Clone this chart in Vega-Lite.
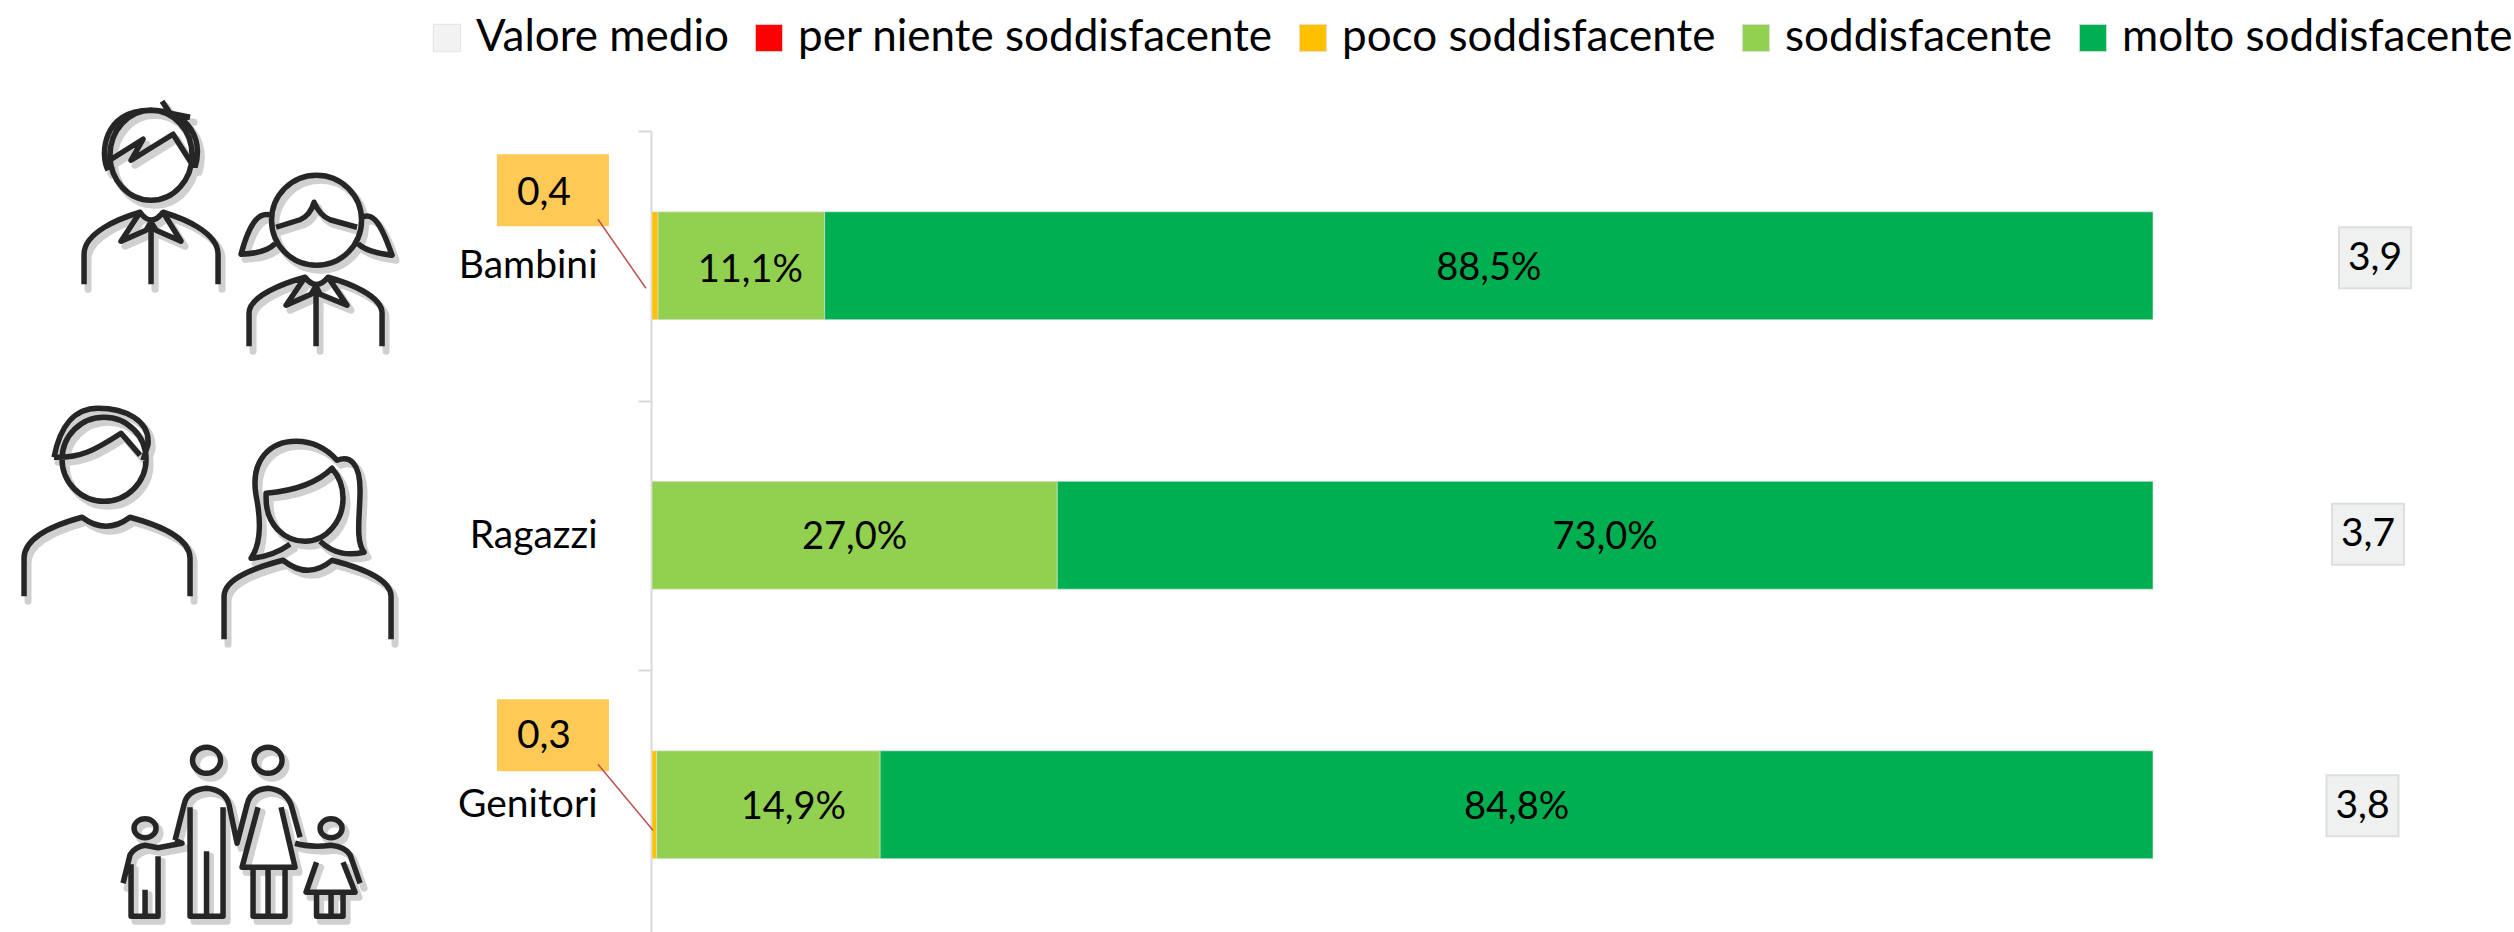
{"$schema":"https://vega.github.io/schema/vega-lite/v6.json","width":2514,"height":932,"autosize":{"type":"none"},"padding":0,"background":"white","config":{"view":{"stroke":null},"font":"Lato"},
"datasets":{"risposte":[
{"gruppo":"Bambini","categoria":"per niente soddisfacente","ordine":1,"valore":0,"etichetta":""},
{"gruppo":"Bambini","categoria":"poco soddisfacente","ordine":2,"valore":0.4,"etichetta":""},
{"gruppo":"Bambini","categoria":"soddisfacente","ordine":3,"valore":11.1,"etichetta":"11,1%"},
{"gruppo":"Bambini","categoria":"molto soddisfacente","ordine":4,"valore":88.5,"etichetta":"88,5%"},
{"gruppo":"Ragazzi","categoria":"per niente soddisfacente","ordine":1,"valore":0,"etichetta":""},
{"gruppo":"Ragazzi","categoria":"poco soddisfacente","ordine":2,"valore":0,"etichetta":""},
{"gruppo":"Ragazzi","categoria":"soddisfacente","ordine":3,"valore":27.0,"etichetta":"27,0%"},
{"gruppo":"Ragazzi","categoria":"molto soddisfacente","ordine":4,"valore":73.0,"etichetta":"73,0%"},
{"gruppo":"Genitori","categoria":"per niente soddisfacente","ordine":1,"valore":0,"etichetta":""},
{"gruppo":"Genitori","categoria":"poco soddisfacente","ordine":2,"valore":0.3,"etichetta":""},
{"gruppo":"Genitori","categoria":"soddisfacente","ordine":3,"valore":14.9,"etichetta":"14,9%"},
{"gruppo":"Genitori","categoria":"molto soddisfacente","ordine":4,"valore":84.8,"etichetta":"84,8%"}],
"medie":[{"gruppo":"Bambini","medio":"3,9"},{"gruppo":"Ragazzi","medio":"3,7"},{"gruppo":"Genitori","medio":"3,8"}],
"piccoli":[{"gruppo":"Bambini","quota":"0,4"},{"gruppo":"Genitori","quota":"0,3"}]},
"data":{"name":"risposte"},
"encoding":{"y":{"field":"gruppo","type":"nominal","sort":["Bambini","Ragazzi","Genitori"],"scale":{"domain":["Bambini","Ragazzi","Genitori"],"range":[131,939.5],"paddingInner":0.6,"paddingOuter":0.3},"axis":{"title":null,"offset":-651,"domainColor":"#D9D9D9","domainWidth":2,"tickColor":"#D9D9D9","tickWidth":2,"tickSize":13,"tickBand":"center","tickOffset":-134.75,"labelOffset":134.75,"labelFontSize":39,"labelColor":"#000000","labelFont":"Lato","labelPadding":41,"encode":{"labels":{"update":{"dx":{"signal":"datum.label==='Ragazzi'?-9:0"}}}}}}},
"layer":[
{"mark":{"type":"bar","stroke":"#E2E2E2","strokeWidth":0.6},"encoding":{"x":{"field":"valore","type":"quantitative","stack":"zero","scale":{"domain":[0,100],"range":[652,2153]},"axis":null},"order":{"field":"ordine","type":"quantitative"},"color":{"field":"categoria","type":"nominal","scale":{"domain":["Valore medio","per niente soddisfacente","poco soddisfacente","soddisfacente","molto soddisfacente"],"range":["#F2F2F2","#FF0000","#FFC000","#92D050","#00B050"]},"legend":{"title":null,"orient":"none","legendX":425,"legendY":16,"direction":"horizontal","columns":5,"gridAlign":"none","symbolType":"square","symbolSize":750,"symbolStrokeWidth":1,"labelFontSize":44,"labelFont":"Lato","labelColor":"#000000","labelOffset":7,"columnPadding":18,"labelLimit":700,"encoding":{"symbols":{"update":{"stroke":{"signal":"datum.label==='Valore medio'?'#D9D9D9':'transparent'"},"strokeWidth":{"value":3}}}}}}}},
{"mark":{"type":"text","fontSize":38,"color":"#000000","dx":{"expr":"datum.etichetta==='11,1%'?9:datum.etichetta==='14,9%'?25:0"},"dy":{"expr":"datum.etichetta==='11,1%'?5:3"}},"encoding":{"x":{"field":"valore","type":"quantitative","stack":"zero","bandPosition":0.5},"order":{"field":"ordine","type":"quantitative"},"text":{"field":"etichetta"}}},
{"data":{"name":"medie"},"mark":{"type":"rect","width":72,"height":61,"color":"#EFF0F0","stroke":"#DEDEDE","strokeWidth":2,"xOffset":{"expr":"datum.gruppo==='Ragazzi'?-7:datum.gruppo==='Genitori'?-12.5:0"},"yOffset":{"expr":"datum.gruppo==='Bambini'?-8:datum.gruppo==='Ragazzi'?-1:1"}},"encoding":{"x":{"datum":114.79,"type":"quantitative"}}},
{"data":{"name":"medie"},"mark":{"type":"text","fontSize":39,"color":"#000000","dx":{"expr":"datum.gruppo==='Ragazzi'?-7:datum.gruppo==='Genitori'?-12.5:0"},"dy":{"expr":"datum.gruppo==='Bambini'?-8:datum.gruppo==='Ragazzi'?-1:1"}},"encoding":{"x":{"datum":114.79,"type":"quantitative"},"text":{"field":"medio"}}},
{"data":{"name":"piccoli"},"mark":{"type":"rect","width":112,"height":72,"color":"#FFC955","yOffset":{"expr":"datum.gruppo==='Bambini'?-75.5:-69.5"}},"encoding":{"x":{"datum":-6.6,"type":"quantitative"}}},
{"data":{"name":"piccoli"},"mark":{"type":"text","fontSize":39,"color":"#000000","dx":-9,"dy":{"expr":"datum.gruppo==='Bambini'?-73:-69"}},"encoding":{"x":{"datum":-6.6,"type":"quantitative"},"text":{"field":"quota"}}},
{"data":{"name":"piccoli"},"mark":{"type":"point","filled":false,"opacity":1,"size":40000,"stroke":"#C0504D","strokeWidth":1.5,"shape":{"expr":"datum.gruppo==='Bambini'?'M.45 -.465 L.93 .225':'M.45 -.405 L1 .255'"}},"encoding":{"x":{"datum":-6.6,"type":"quantitative"}}},
{"data":{"name":"medie"},"mark":{"type":"point","filled":false,"opacity":0.18,"size":40000,"stroke":"#000000","strokeWidth":7,"strokeJoin":"round","strokeCap":"round","xOffset":{"expr":"datum.gruppo==='Genitori'?-1:4"},"yOffset":5},"encoding":{"x":{"datum":-30.11,"type":"quantitative"},"shape":{"field":"gruppo","type":"nominal","legend":null,"scale":{"domain":["Bambini","Ragazzi","Genitori"],"range":[
"M-.9 -1.105 A.41 .45 0 1 1 -.08 -1.105 A.41 .45 0 1 1 -.9 -1.105 M-.92 -.955 C-1 -1.1 -.98 -1.555 -.5 -1.555 C-.1 -1.555 .03 -1.25 -.05 -.985 M-.92 -1.045 L-.57 -1.265 L-.69 -1.055 L-.27 -1.315 L-.06 -.985 M-.38 -1.645 L-.3 -1.525 L-.1 -1.485 M-1.16 .185 L-1.16 -.115 C-1.16 -.335 -.8 -.475 -.6 -.535 L-.79 -.245 L-.54 -.355 L-.49 -.435 L-.44 -.355 L-.19 -.245 L-.37 -.535 C-.17 -.475 .18 -.335 .18 -.115 L.18 .185 M-.49 -.38 L-.49 .185 M-.6 -.535 Q-.49 -.38 -.37 -.535 M.715 -.455 A.45 .45 0 1 1 1.615 -.455 A.45 .45 0 1 1 .715 -.455 M.76 -.385 L1 -.46 Q1.1 -.5 1.14 -.635 Q1.2 -.5 1.3 -.46 L1.57 -.385 M.72 -.5 C.6 -.55 .5 -.45 .41 -.115 C.55 -.12 .68 -.15 .75 -.22 M1.6 -.475 C1.72 -.55 1.8 -.45 1.92 -.105 C1.8 -.12 1.65 -.15 1.58 -.22 M.49 .805 L.49 .475 C.49 .3 .85 .17 1.05 .115 L.86 .395 L1.11 .285 L1.16 .205 L1.2 .285 L1.47 .395 L1.28 .115 C1.48 .17 1.82 .3 1.82 .475 L1.82 .805 M1.16 .26 L1.16 .805 M1.05 .115 Q1.16 .26 1.28 .115",
"M-1.38 -.76 A.42 .42 0 1 1 -.54 -.76 A.42 .42 0 1 1 -1.38 -.76 M-1.46 -.78 C-1.4 -1.1 -1.25 -1.27 -1.02 -1.27 C-.75 -1.27 -.5 -1.15 -.52 -.91 L-.57 -.75 M-1.46 -.78 C-1.2 -.77 -1.05 -.85 -.79 -1.02 L-.6 -.8 M-1.76 .61 L-1.76 .23 C-1.76 0 -1.4 -.12 -1.18 -.18 Q-.94 0 -.7 -.18 C-.48 -.12 -.1 0 -.1 .23 L-.1 .61 M.66 -.37 C.66 -.1 .85 .06 1.05 .06 C1.27 .06 1.43 -.15 1.43 -.37 C1.43 -.5 1.38 -.6 1.32 -.67 C1.2 -.55 1 -.45 .66 -.42 Z M.9 .09 C.8 .16 .65 .22 .51 .23 C.6 .1 .62 -.1 .56 -.4 C.5 -.75 .7 -.94 .96 -.94 C1.15 -.94 1.28 -.85 1.37 -.75 C1.5 -.8 1.6 -.72 1.6 -.45 C1.6 -.2 1.55 .05 1.64 .17 C1.5 .2 1.35 .2 1.2 .06 M.24 1.04 L.24 .61 C.24 .42 .6 .31 .83 .25 Q1.08 .45 1.32 .25 C1.55 .31 1.91 .42 1.91 .61 L1.91 1.04",
"M-.025 -.445 A.14 .13 0 1 1 .255 -.445 A.14 .13 0 1 1 -.025 -.445 M.59 -.445 A.14 .13 0 1 1 .87 -.445 A.14 .13 0 1 1 .59 -.445 M-.61 .235 A.11 .095 0 1 1 -.39 .235 A.11 .095 0 1 1 -.61 .235 M1.25 .235 A.11 .095 0 1 1 1.47 .235 A.11 .095 0 1 1 1.25 .235 M-.05 .025 L-.05 1.115 L.28 1.115 L.28 .025 M.115 .465 L.115 1.115 M-.2 .355 L-.11 0 Q-.08 -.15 .115 -.165 Q.3 -.15 .34 0 L.42 .385 L.52 0 Q.55 -.15 .73 -.165 Q.9 -.15 .96 0 L1.05 .325 M.63 .025 L.47 .625 L1 .625 L.86 .025 M.58 .625 L.58 1.115 L.9 1.115 L.9 .625 M.73 .625 L.73 1.115 M-.64 .595 L-.64 1.115 L-.37 1.115 L-.37 .515 M-.72 .785 L-.65 .5 Q-.6 .42 -.5 .405 L-.37 .43 L-.13 .385 L-.2 .355 M-.5 .85 L-.5 1.115 M1 .385 Q1.15 .43 1.36 .405 Q1.5 .42 1.55 .5 L1.65 .785 M1.215 .575 L1.11 .875 L1.6 .875 L1.48 .575 M1.215 .875 L1.215 1.115 L1.48 1.115 L1.48 .875 M1.36 .875 L1.36 1.115"]}}}},
{"data":{"name":"medie"},"mark":{"type":"point","filled":false,"opacity":1,"size":40000,"stroke":"#262626","strokeWidth":5.5,"strokeJoin":"round","xOffset":{"expr":"datum.gruppo==='Genitori'?-5:0"}},"encoding":{"x":{"datum":-30.11,"type":"quantitative"},"shape":{"field":"gruppo","type":"nominal","legend":null}}}
]}
